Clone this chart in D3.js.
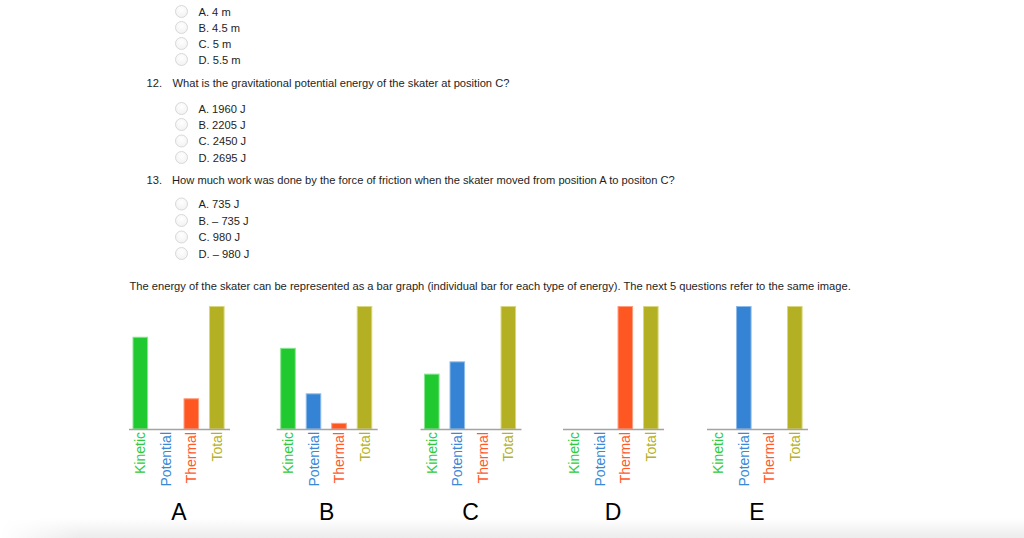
<!DOCTYPE html>
<html>
<head>
<meta charset="utf-8">
<script src="https://cdn.jsdelivr.net/npm/d3@7"></script>
<style>
  html, body { margin: 0; padding: 0; background: #fff; }
  svg { display: block; }
  text { font-family: "Liberation Sans", Arial, Helvetica, sans-serif; }
</style>
</head>
<body>
<svg id="chart" width="1024" height="538"></svg>
<script>
// ---------- data ----------
const categories = ["Kinetic", "Potential", "Thermal", "Total"];
const panels = ["A", "B", "C", "D", "E"];
const kinetic   = [75, 66, 45, 0, 0];
const potential = [0, 29, 55, 0, 100];
const thermal   = [25, 5, 0, 100, 0];
const total     = [100, 100, 100, 100, 100];

const q11Options = ["A. 4 m", "B. 4.5 m", "C. 5 m", "D. 5.5 m"];
const q12Number = "12.";
const q12Text = "What is the gravitational potential energy of the skater at position C?";
const q12Options = ["A. 1960 J", "B. 2205 J", "C. 2450 J", "D. 2695 J"];
const q13Number = "13.";
const q13Text = "How much work was done by the force of friction when the skater moved from position A to positon C?";
const q13Options = ["A. 735 J", "B. \u2013 735 J", "C. 980 J", "D. \u2013 980 J"];
const introText = "The energy of the skater can be represented as a bar graph (individual bar for each type of energy). The next 5 questions refer to the same image.";

// ---------- styling ----------
const barColors   = ["#20c92f", "#3583d4", "#ff5722", "#b3b023"];
const barStrokes  = ["#86e58d", "#8dbbea", "#ff9c7e", "#d8d67e"];
const labelColors = ["#2ecc3a", "#3a88d8", "#ff5a2a", "#b5b12a"];
const fs = 11.15;

const svg = d3.select("#chart");

// bottom page shadow
const defs = svg.append("defs");
const vg = defs.append("linearGradient").attr("id", "vg").attr("x1", 0).attr("y1", 0).attr("x2", 0).attr("y2", 1);
vg.append("stop").attr("offset", "0%").attr("stop-color", "#ffffff");
vg.append("stop").attr("offset", "100%").attr("stop-color", "#ececec");
const hg = defs.append("linearGradient").attr("id", "hg").attr("x1", 0).attr("y1", 0).attr("x2", 1).attr("y2", 0);
hg.append("stop").attr("offset", "0%").attr("stop-color", "#fff").attr("stop-opacity", 1);
hg.append("stop").attr("offset", "100%").attr("stop-color", "#fff").attr("stop-opacity", 0);
const rg = defs.append("radialGradient").attr("id", "rg").attr("cx", "50%").attr("cy", "35%").attr("r", "60%");
rg.append("stop").attr("offset", "0%").attr("stop-color", "#ffffff");
rg.append("stop").attr("offset", "100%").attr("stop-color", "#f3f3f3");

svg.append("rect").attr("x", 0).attr("y", 518).attr("width", 1024).attr("height", 20).attr("fill", "url(#vg)");
svg.append("rect").attr("x", 0).attr("y", 518).attr("width", 80).attr("height", 20).attr("fill", "url(#hg)");

// ---------- question text ----------
const textColor = "#1e1e1e";
function radioGroup(options, baselines) {
  options.forEach((o, i) => {
    svg.append("circle").attr("cx", 181.5).attr("cy", baselines[i] - 4)
      .attr("r", 6).attr("fill", "url(#rg)").attr("stroke", "#cfcfcf").attr("stroke-width", 0.8);
    svg.append("text").attr("x", 198.5).attr("y", baselines[i])
      .attr("font-size", fs).attr("fill", textColor).text(o);
  });
}
radioGroup(q11Options, [15.5, 31.5, 47.5, 63.5]);

svg.append("text").attr("x", 146.5).attr("y", 87).attr("font-size", fs).attr("fill", textColor).text(q12Number);
svg.append("text").attr("x", 172.5).attr("y", 87).attr("font-size", fs).attr("fill", textColor).text(q12Text);
radioGroup(q12Options, [112.5, 128.5, 145, 161.5]);

svg.append("text").attr("x", 146.5).attr("y", 184).attr("font-size", fs).attr("fill", textColor).text(q13Number);
svg.append("text").attr("x", 172).attr("y", 184).attr("font-size", fs).attr("fill", textColor).text(q13Text);
radioGroup(q13Options, [208, 224.5, 241, 257.5]);

svg.append("text").attr("x", 129.5).attr("y", 290).attr("font-size", fs).attr("fill", textColor).text(introText);

// ---------- bar panels ----------
const panelCenters = [179, 326.7, 470.5, 613, 757];
const axisHalf = 50.5;
const baseY = 429;
const y = d3.scaleLinear().domain([0, 100]).range([baseY, 306]);

panels.forEach((p, pi) => {
  const values = [kinetic[pi], potential[pi], thermal[pi], total[pi]];
  const cx = panelCenters[pi];
  const x = d3.scaleBand().domain(categories)
    .range([cx - axisHalf, cx + axisHalf])
    .paddingInner(0.39).paddingOuter(0.175).align(0.45);

  const g = svg.append("g");
  const data = categories.map((c, i) => ({ c, v: values[i], i }));

  g.selectAll("rect.bar").data(data.filter(d => d.v > 0)).enter().append("rect")
    .attr("class", "bar")
    .attr("x", d => x(d.c) + 0.5)
    .attr("y", d => y(d.v) + 0.5)
    .attr("width", x.bandwidth() - 1)
    .attr("height", d => baseY - y(d.v) - 0.5)
    .attr("fill", d => barColors[d.i])
    .attr("stroke", d => barStrokes[d.i])
    .attr("stroke-width", 1);

  // baseline axis
  const axis = d3.axisBottom(x).tickSize(0).tickFormat("");
  const ag = g.append("g").attr("transform", `translate(0,${baseY})`).call(axis);
  ag.select(".domain").attr("stroke", "#a3a3a3").attr("stroke-width", 1.6);

  // rotated category labels
  g.selectAll("text.lab").data(data).enter().append("text")
    .attr("class", "lab")
    .attr("transform", d => `translate(${x(d.c) + x.bandwidth() / 2},${baseY + 3}) rotate(-90)`)
    .attr("text-anchor", "end")
    .attr("dy", "0.36em")
    .attr("font-size", 14)
    .attr("fill", d => labelColors[d.i])
    .text(d => d.c);

  // panel letter
  g.append("text").attr("x", cx).attr("y", 520)
    .attr("text-anchor", "middle").attr("font-size", 23).attr("fill", "#000")
    .text(p);
});
</script>
</body>
</html>
